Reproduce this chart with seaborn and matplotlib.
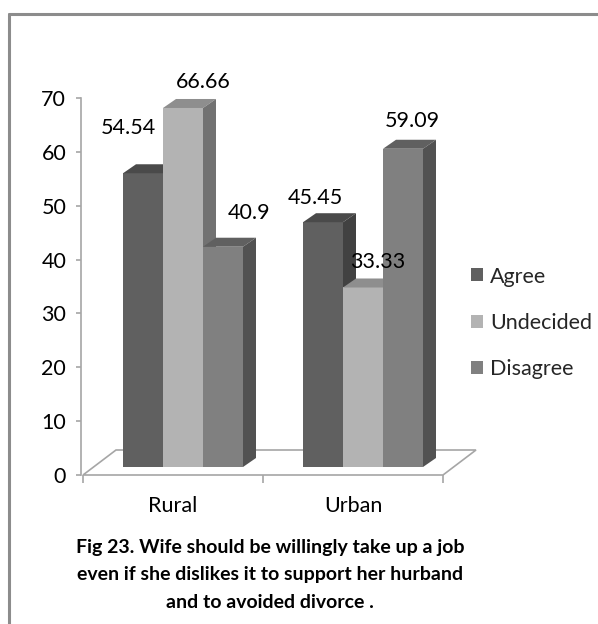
import matplotlib
matplotlib.use("Agg")
import matplotlib.pyplot as plt
import matplotlib.transforms as mtransforms
from matplotlib.patches import Polygon
from matplotlib.lines import Line2D
import seaborn as sns
import pandas as pd

# ---- data -------------------------------------------------------------
areas = ["Rural", "Urban"]
responses = ["Agree", "Undecided", "Disagree"]
agree = [54.54, 45.45]
undecided = [66.66, 33.33]
disagree = [40.9, 59.09]
y_ticks = [0, 10, 20, 30, 40, 50, 60, 70]
caption = ("Fig 23. Wife should be willingly take up a job\n"
           "even if she dislikes it to support her hurband\n"
           "and to avoided divorce .")

df = pd.DataFrame({
    "area": areas * 3,
    "response": [r for r in responses for _ in areas],
    "value": agree + undecided + disagree,
})

# ---- style ------------------------------------------------------------
front = {"Agree": "#606060", "Undecided": "#b3b3b3", "Disagree": "#808080"}
top = {"Agree": "#4a4a4a", "Undecided": "#8e8e8e", "Disagree": "#606060"}
side = {"Agree": "#414141", "Undecided": "#727272", "Disagree": "#525252"}
axis_grey = "#a6a6a6"
FONT = "Lato"
TXT = 15.5

sns.set_theme(style="white")
plt.rcParams["font.family"] = [FONT, "DejaVu Sans"]

W, H = 598, 624
fig = plt.figure(figsize=(W / 100, H / 100), dpi=100)
fig.patch.set_facecolor("white")

# plot area (front plane of the 3-D box)
x0_px, x1_px, y0_px, y1_px = 83, 443, 475, 98
ax = fig.add_axes([x0_px / W, (H - y0_px) / H,
                   (x1_px - x0_px) / W, (y0_px - y1_px) / H])
ax.set_facecolor("none")

sns.barplot(data=df, x="area", y="value", hue="response",
            hue_order=responses, order=areas, palette=front,
            width=2 / 3, gap=0, saturation=1, linewidth=0,
            legend=True, ax=ax)
ax.set_xlim(-0.5, 1.5)
ax.set_ylim(0, 70)

# pixel -> data conversion on this axes
px_x = 2.0 / (x1_px - x0_px)
px_y = 70.0 / (y0_px - y1_px)

# bars sit a little behind the front plane
bar_shift = mtransforms.ScaledTranslation(10 / 100, 8 / 100, fig.dpi_scale_trans)
bar_tr = ax.transData + bar_shift
depth_x, depth_y = 13 * px_x, 9 * px_y

# floor of the 3-D box
fdx, fdy = 33 * px_x, 25 * px_y
floor = Polygon([(-0.5, 0), (1.5, 0), (1.5 + fdx, fdy), (-0.5 + fdx, fdy)],
                closed=True, facecolor="white", edgecolor=axis_grey,
                linewidth=1.2, clip_on=False, zorder=1)
ax.add_patch(floor)


def response_of(patch):
    hexc = matplotlib.colors.to_hex(patch.get_facecolor())
    return [k for k, v in front.items() if v == hexc][0]


bars = [p for p in ax.patches if p is not floor and p.get_height() > 0]
bars.sort(key=lambda p: p.get_x())
z = 3
for p in bars:
    x0 = p.get_x()
    x1 = x0 + p.get_width()
    h = p.get_height()
    name = response_of(p)
    p.set_transform(bar_tr)
    p.set_clip_on(False)
    p.set_zorder(z)
    top_face = Polygon([(x0, h), (x1, h), (x1 + depth_x, h + depth_y),
                        (x0 + depth_x, h + depth_y)], closed=True,
                       facecolor=top[name], edgecolor="none",
                       transform=bar_tr, clip_on=False, zorder=z)
    side_face = Polygon([(x1, 0), (x1 + depth_x, depth_y),
                         (x1 + depth_x, h + depth_y), (x1, h)], closed=True,
                        facecolor=side[name], edgecolor="none",
                        transform=bar_tr, clip_on=False, zorder=z)
    ax.add_patch(top_face)
    ax.add_patch(side_face)
    z += 1

# value labels (pixel nudges from the top-centre of each bar's front face)
label_nudge = {
    ("Rural", "Agree"): (-15, 45), ("Rural", "Undecided"): (20, 26),
    ("Rural", "Disagree"): (26, 34), ("Urban", "Agree"): (-8, 24),
    ("Urban", "Undecided"): (15, 25), ("Urban", "Disagree"): (9, 28),
}
for p in bars:
    cx = p.get_x() + p.get_width() / 2
    h = p.get_height()
    area = areas[int(round(cx))]
    dx, dy = label_nudge[(area, response_of(p))]
    ax.annotate(f"{h:g}", xy=(cx, h), xycoords=bar_tr,
                xytext=(dx, dy), textcoords="offset pixels",
                ha="center", va="center", fontsize=TXT,
                color="black", zorder=20, annotation_clip=False)

# axes
for s in ["top", "right", "bottom"]:
    ax.spines[s].set_visible(False)
ax.spines["left"].set_color(axis_grey)
ax.spines["left"].set_linewidth(1.2)
ax.spines["left"].set_position(("outward", 1.5))
ax.set_yticks(y_ticks)
ax.set_yticklabels([str(t) for t in y_ticks], fontsize=TXT, color="black")
ax.tick_params(axis="y", length=3.6, width=1.2, color=axis_grey, pad=7,
               left=True)
ax.set_xticks([0, 1])
ax.set_xticklabels(areas, fontsize=TXT, color="black")
ax.set_xticks([-0.5, 0.5, 1.5], minor=True)
ax.tick_params(axis="x", which="major", length=0, pad=15, bottom=True)
ax.tick_params(axis="x", which="minor", length=5.8, width=1.2,
               color=axis_grey, bottom=True)
ax.set_xlabel("")
ax.set_ylabel("")

# legend
handles, labels = ax.get_legend_handles_labels()
leg = ax.legend(handles, labels, loc="center left",
                bbox_to_anchor=(471 / W, (H - 323) / H),
                bbox_transform=fig.transFigure, frameon=False,
                fontsize=TXT, handlelength=0.55, handleheight=0.55,
                handletextpad=0.35, labelspacing=1.23, borderpad=0,
                borderaxespad=0)

# caption
fig.text(270 / W, (H - 574.5) / H, caption, ha="center", va="center",
         multialignment="center", fontsize=14, fontweight="bold",
         linespacing=1.75, color="black")

# chart frame
fig.add_artist(Line2D([8.5 / W, 1.0], [(H - 13.5) / H] * 2,
                      transform=fig.transFigure, color="#8c8c8c", linewidth=2.2))
fig.add_artist(Line2D([8.5 / W] * 2, [0, (H - 13.5) / H],
                      transform=fig.transFigure, color="#8c8c8c", linewidth=2.2))

fig.savefig("out.png", dpi=100)
